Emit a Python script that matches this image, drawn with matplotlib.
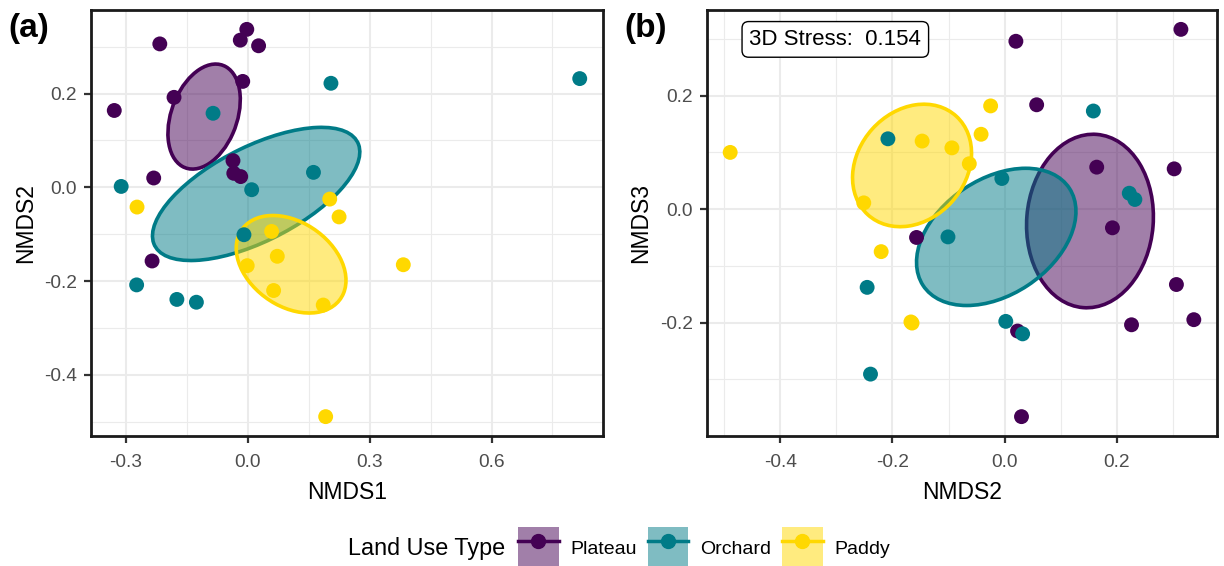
import numpy as np
import matplotlib
matplotlib.use('Agg')
import matplotlib.pyplot as plt
from matplotlib.patches import Ellipse, Patch
from matplotlib.lines import Line2D
from matplotlib.legend_handler import HandlerTuple
from matplotlib.ticker import FormatStrFormatter
from matplotlib.colors import to_rgba

plt.rcParams['font.family'] = ['Liberation Sans', 'DejaVu Sans']
plt.rcParams['axes.unicode_minus'] = False

groups = ['Plateau', 'Orchard', 'Paddy']
colors = ['#440154', '#007B87', '#FFD800']

# NMDS scores per sample
plateau_nmds1 = [-0.216, -0.002, -0.018, 0.027, -0.012, -0.181, -0.328, -0.036, -0.034, -0.017, -0.231, -0.235]
plateau_nmds2 = [0.306, 0.337, 0.314, 0.302, 0.226, 0.192, 0.164, 0.057, 0.030, 0.023, 0.020, -0.157]
plateau_nmds3 = [-0.133, -0.195, 0.317, 0.071, -0.204, -0.033, 0.074, 0.184, -0.366, -0.215, 0.296, -0.050]

orchard_nmds1 = [0.205, -0.085, 0.162, -0.311, 0.010, -0.009, -0.273, -0.174, -0.126, 0.817]
orchard_nmds2 = [0.222, 0.158, 0.032, 0.002, -0.005, -0.101, -0.208, -0.239, -0.245, 0.232]
orchard_nmds3 = [0.028, 0.173, -0.220, -0.198, 0.054, -0.049, 0.124, -0.291, -0.138, 0.017]

paddy_nmds1 = [-0.272, 0.202, 0.225, 0.059, 0.073, -0.001, 0.064, 0.186, 0.383, 0.192]
paddy_nmds2 = [-0.042, -0.025, -0.063, -0.094, -0.147, -0.167, -0.220, -0.251, -0.165, -0.489]
paddy_nmds3 = [0.132, 0.182, 0.080, 0.108, 0.120, -0.199, -0.075, 0.011, -0.201, 0.100]

# group ellipses: centre, half extent along x / y, correlation (tilt)
ell_a_cx = [-0.107, 0.021, 0.107]
ell_a_cy = [0.151, -0.014, -0.164]
ell_a_hx = [0.089, 0.255, 0.135]
ell_a_hy = [0.112, 0.142, 0.104]
ell_a_r = [0.32, 0.63, -0.33]

ell_b_cx = [0.152, -0.015, -0.165]
ell_b_cy = [-0.021, -0.049, 0.077]
ell_b_hx = [0.113, 0.142, 0.106]
ell_b_hy = [0.153, 0.121, 0.108]
ell_b_r = [0.05, 0.37, 0.20]

stress = 0.154

nmds1 = [plateau_nmds1, orchard_nmds1, paddy_nmds1]
nmds2 = [plateau_nmds2, orchard_nmds2, paddy_nmds2]
nmds3 = [plateau_nmds3, orchard_nmds3, paddy_nmds3]


def add_ellipse(ax, cx, cy, hx, hy, r, color):
    cov = np.array([[hx**2, r * hx * hy], [r * hx * hy, hy**2]])
    vals, vecs = np.linalg.eigh(cov)
    angle = np.degrees(np.arctan2(vecs[1, 1], vecs[0, 1]))
    e = Ellipse((cx, cy), 2 * np.sqrt(vals[1]), 2 * np.sqrt(vals[0]), angle=angle,
                facecolor=to_rgba(color, 0.5), edgecolor=color, lw=2.6, zorder=2)
    ax.add_patch(e)


def expand(vals):
    lo, hi = min(vals), max(vals)
    pad = (hi - lo) * 0.05
    return lo - pad, hi + pad


def style_axes(ax, xmaj, xmin, ymaj, ymin):
    ax.set_xticks(xmaj)
    ax.set_xticks(xmin, minor=True)
    ax.set_yticks(ymaj)
    ax.set_yticks(ymin, minor=True)
    ax.xaxis.set_major_formatter(FormatStrFormatter('%.1f'))
    ax.yaxis.set_major_formatter(FormatStrFormatter('%.1f'))
    ax.grid(which='major', color='#EBEBEB', lw=1.5)
    ax.grid(which='minor', color='#EBEBEB', lw=0.8)
    ax.set_axisbelow(True)
    ax.tick_params(which='major', length=5, width=1.6, color='#333333',
                   labelsize=13.8, labelcolor='#4D4D4D', pad=5)
    ax.tick_params(axis='x', which='major', pad=8)
    ax.tick_params(which='minor', length=0)
    for s in ax.spines.values():
        s.set_linewidth(2.0)
        s.set_color('#1A1A1A')


fig = plt.figure(figsize=(12.24, 5.66), dpi=100)
ax1 = fig.add_axes([91 / 1224, 130 / 566, 512 / 1224, 426 / 566])
ax2 = fig.add_axes([707 / 1224, 130 / 566, 510 / 1224, 426 / 566])

# panel (a): NMDS1 vs NMDS2
for i in range(3):
    add_ellipse(ax1, ell_a_cx[i], ell_a_cy[i], ell_a_hx[i], ell_a_hy[i], ell_a_r[i], colors[i])
for i in range(3):
    ax1.scatter(nmds1[i], nmds2[i], s=115, color=colors[i], edgecolors='none', zorder=3)
ax1.set_xlim(expand(sum(nmds1, [])))
ax1.set_ylim(expand(sum(nmds2, [])))
style_axes(ax1, [-0.3, 0.0, 0.3, 0.6], [-0.15, 0.15, 0.45, 0.75],
           [-0.4, -0.2, 0.0, 0.2], [-0.5, -0.3, -0.1, 0.1, 0.3])
ax1.set_xlabel('NMDS1', fontsize=16.5, labelpad=7)
ax1.set_ylabel('NMDS2', fontsize=16.5, labelpad=5)

# panel (b): NMDS2 vs NMDS3
for i in range(3):
    add_ellipse(ax2, ell_b_cx[i], ell_b_cy[i], ell_b_hx[i], ell_b_hy[i], ell_b_r[i], colors[i])
for i in range(3):
    ax2.scatter(nmds2[i], nmds3[i], s=115, color=colors[i], edgecolors='none', zorder=3)
ax2.set_xlim(expand(sum(nmds2, [])))
ax2.set_ylim(expand(sum(nmds3, [])))
style_axes(ax2, [-0.4, -0.2, 0.0, 0.2], [-0.5, -0.3, -0.1, 0.1, 0.3],
           [-0.2, 0.0, 0.2], [-0.3, -0.1, 0.1, 0.3])
ax2.set_xlabel('NMDS2', fontsize=16.5, labelpad=7)
ax2.set_ylabel('NMDS3', fontsize=16.5, labelpad=6)

ax2.text(0.2516, 0.931, f'3D Stress:  {stress:.3f}', transform=ax2.transAxes,
         ha='center', va='center', fontsize=16, zorder=5,
         bbox=dict(boxstyle='round,pad=0.33,rounding_size=0.3', fc='white', ec='black', lw=1.0))

fig.text(28.5 / 1224, 1 - 29 / 566, '(a)', fontsize=24, fontweight='bold', ha='center', va='center')
fig.text(645.5 / 1224, 1 - 29 / 566, '(b)', fontsize=24, fontweight='bold', ha='center', va='center')

# legend
handles = []
for c in colors:
    handles.append((Patch(facecolor=to_rgba(c, 0.5), edgecolor='none'),
                    Line2D([], [], color=c, lw=2.5, marker='o', markersize=10)))
fig.text(348 / 1224, 18 / 566, 'Land Use Type', fontsize=16.8, ha='left', va='center')
fig.legend(handles, groups, handler_map={tuple: HandlerTuple(ndivide=1, pad=0)},
           ncol=3, loc='center', bbox_to_anchor=(704 / 1224, 18 / 566), frameon=False,
           fontsize=14, handlelength=2.1, handleheight=2.9, handletextpad=0.6,
           columnspacing=0.55, borderpad=0.2)

fig.savefig('out.png', dpi=100)
